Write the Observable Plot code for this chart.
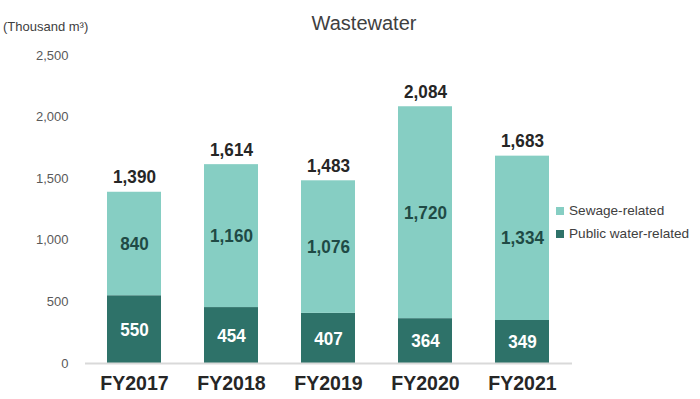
<!DOCTYPE html>
<html><head><meta charset="utf-8">
<script src="https://cdn.jsdelivr.net/npm/d3@7"></script>
<script src="https://cdn.jsdelivr.net/npm/@observablehq/plot@0.6"></script>
<style>
body{margin:0;background:#fff;font-family:"Liberation Sans",sans-serif;}
#wrap{position:relative;width:700px;height:399px;}
.title{position:absolute;top:13px;left:264px;width:200px;text-align:center;font-family:"Liberation Sans",sans-serif;font-size:20px;line-height:20px;color:#404040;}
.unit{position:absolute;top:19px;left:3px;font-family:"Liberation Sans",sans-serif;font-size:13px;color:#404040;}
.legend{position:absolute;left:556px;top:199px;font-family:"Liberation Sans",sans-serif;font-size:13.6px;color:#404040;line-height:23px;}
.legend span.sw{display:inline-block;width:8px;height:8px;margin-right:5px;vertical-align:0px;}
</style></head>
<body><div id="wrap"></div>
<script>
const years = ["FY2017","FY2018","FY2019","FY2020","FY2021"];
const publicWater = [550,454,407,364,349];
const sewage = [840,1160,1076,1720,1334];
const totals = [1390,1614,1483,2084,1683];
const seriesNames = ["Public water-related","Sewage-related"];
const colors = ["#2E7269","#86CEC3"];
const yTicks = [0,500,1000,1500,2000,2500];

const data = [];
years.forEach((y,i)=>{
  data.push({year:y, series:seriesNames[0], value:publicWater[i]});
  data.push({year:y, series:seriesNames[1], value:sewage[i]});
});
const totData = years.map((y,i)=>({year:y,total:totals[i]}));
const fmt = d3.format(",");

const chart = Plot.plot({
  width:700, height:399,
  marginLeft:85, marginRight:128, marginTop:55, marginBottom:36,
  style:{fontFamily:"'Liberation Sans',sans-serif", background:"#fff"},
  x:{domain:years, paddingInner:0.44, paddingOuter:0.22, label:null},
  y:{domain:[0,2500], label:null},
  color:{domain:seriesNames, range:colors},
  marks:[
    Plot.axisY({ticks:yTicks, tickFormat:fmt, tickSize:0, tickPadding:17, fontSize:13, fill:"#595959", label:null}),
    Plot.axisX({tickSize:0, tickPadding:12, fontSize:21, fontWeight:"bold", fill:"#262626", label:null, className:"narrowx"}),
    Plot.barY(data, {x:"year", y:"value", fill:"series", order:seriesNames}),
    Plot.ruleY([0], {stroke:"#d9d9d9", strokeWidth:2}),
    Plot.text(data, Plot.stackY({x:"year", y:"value", z:"series", order:seriesNames, text:d=>fmt(d.value),
      fill:d=>d.series===seriesNames[0]?"#ffffff":"#1f4a45", fontSize:19, fontWeight:"bold", className:"narrow"})),
    Plot.text(totData, {x:"year", y:"total", text:d=>fmt(d.total), dy:-15, fontSize:19, fontWeight:"bold", fill:"#262626", className:"narrow"})
  ]
});
const wrap = document.getElementById("wrap");
wrap.appendChild(chart);
wrap.insertAdjacentHTML("beforeend",
  `<div class="title">Wastewater</div><div class="unit">(Thousand m³)</div>
   <div class="legend"><div><span class="sw" style="background:${colors[1]}"></span>${seriesNames[1]}</div><div><span class="sw" style="background:${colors[0]}"></span>${seriesNames[0]}</div></div>`);
// condense bold labels to mimic the narrow typeface
function condense(sel, f){
  chart.querySelectorAll(sel).forEach(t=>{
    const len = t.getComputedTextLength();
    t.setAttribute("textLength", (len*f).toFixed(1));
    t.setAttribute("lengthAdjust","spacingAndGlyphs");
  });
}
condense("g.narrow text", 0.9);
condense("g.narrowx text", 0.93);
</script></body></html>
